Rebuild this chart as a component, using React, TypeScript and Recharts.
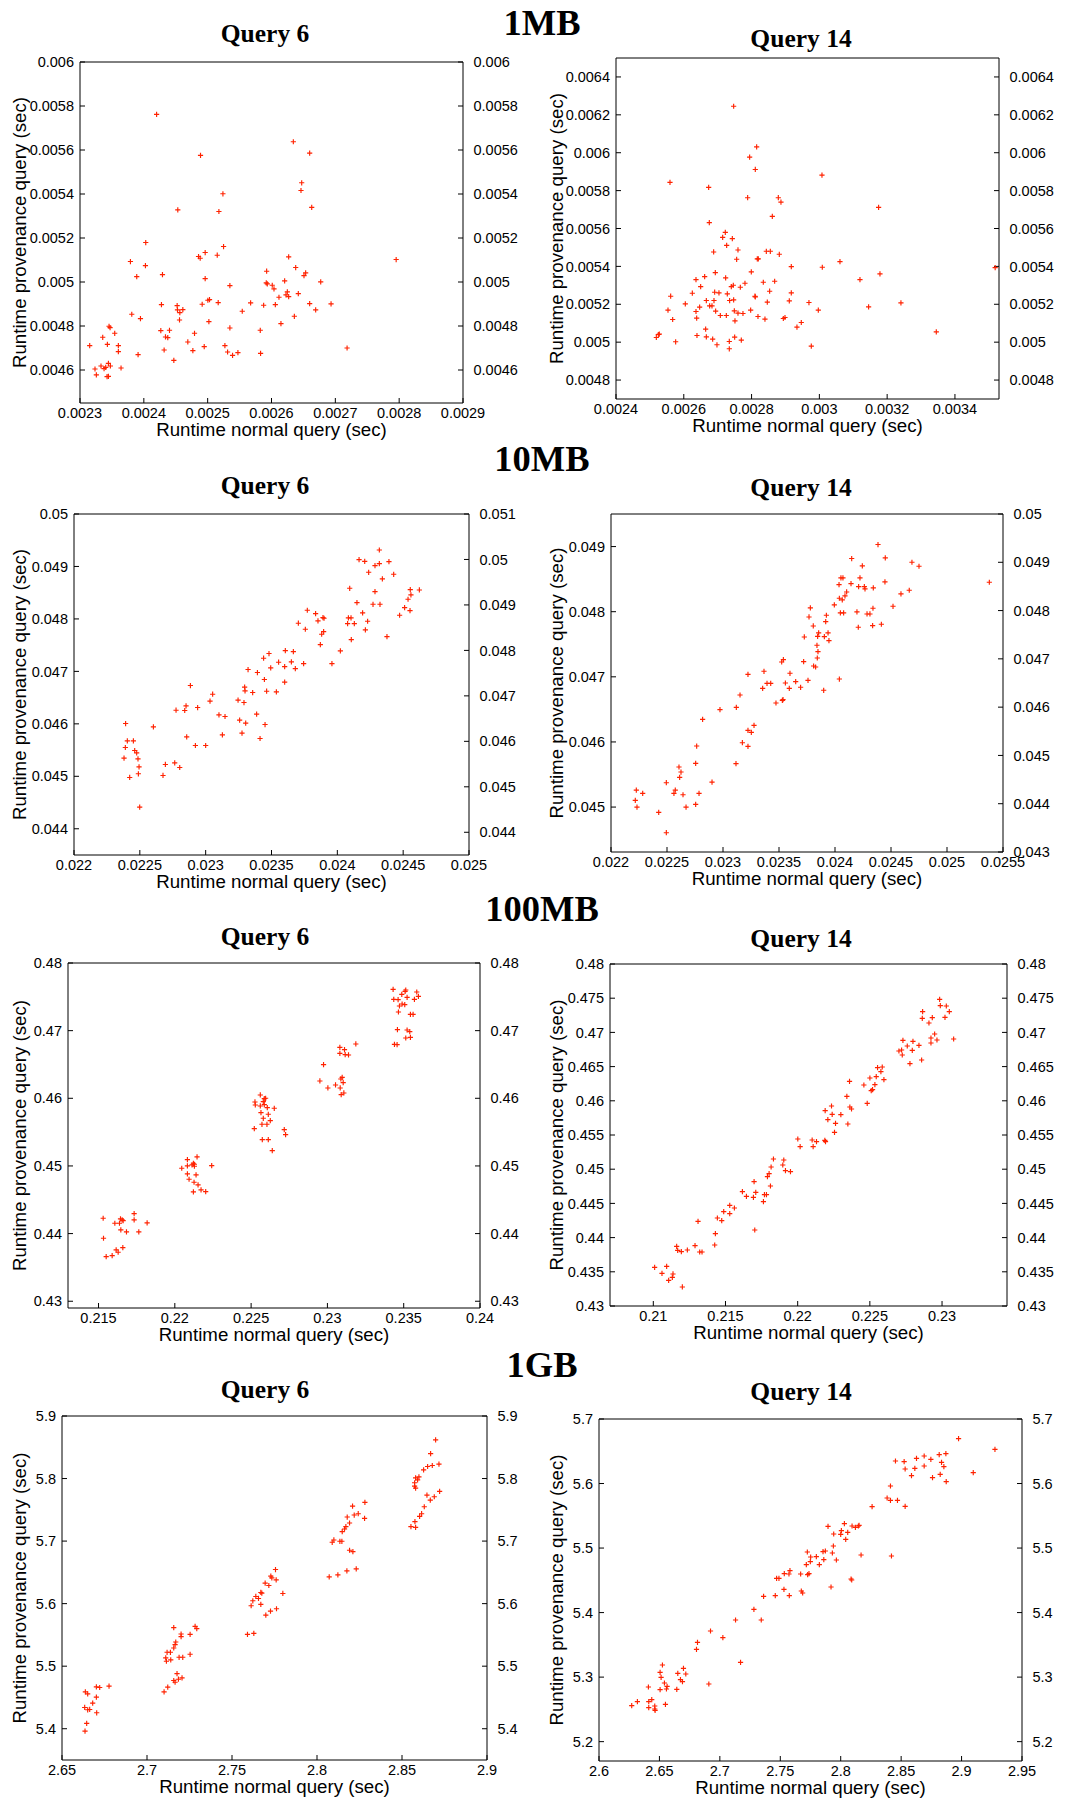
import React from 'react';
import { ScatterChart, Scatter, XAxis, YAxis } from 'recharts';

// Runtime pairs [normal query, provenance query] in seconds
const mb1Q6: [number, number][] = [
  [0.00242, 0.005762], [0.0026342, 0.0056375], [0.0026598, 0.005586], [0.0024888, 0.0055753],
  [0.0026473, 0.005451], [0.0026462, 0.005416], [0.0025239, 0.005401], [0.002663, 0.005339],
  [0.0024532, 0.005328], [0.0025176, 0.0053205], [0.002403, 0.0051794], [0.0025249, 0.0051612],
  [0.0024961, 0.0051339], [0.0024857, 0.0051157], [0.0024883, 0.0051081], [0.002515, 0.0051218],
  [0.002379, 0.005093], [0.0026269, 0.0051142], [0.0024025, 0.0050747], [0.0027953, 0.0051021],
  [0.0023889, 0.0050247], [0.0024292, 0.0050338], [0.0025924, 0.005049], [0.0026379, 0.0050657],
  [0.0026535, 0.0050414], [0.0026509, 0.0050292], [0.0024961, 0.0050156], [0.0026771, 0.0050004],
  [0.0026206, 0.005005], [0.0025918, 0.0049959], [0.0025934, 0.0049913], [0.0025348, 0.0049838],
  [0.0026012, 0.0049853], [0.0026039, 0.0049686], [0.0026248, 0.0049549], [0.0026117, 0.0049307],
  [0.0026227, 0.0049413], [0.0026269, 0.0049337], [0.002642, 0.0049474], [0.0025029, 0.00492],
  [0.0025003, 0.004917], [0.0025165, 0.0049064], [0.0024276, 0.0048973], [0.0024522, 0.0048927],
  [0.0024914, 0.0048988], [0.0025673, 0.0049049], [0.0025877, 0.0048943], [0.002606, 0.0048973],
  [0.0026598, 0.0049018], [0.0026933, 0.0049003], [0.0024527, 0.004873], [0.0024564, 0.0048609],
  [0.0024611, 0.0048745], [0.0025542, 0.004867], [0.0026692, 0.004873], [0.0023811, 0.0048533],
  [0.0026358, 0.0048442], [0.0023947, 0.0048334], [0.0024559, 0.0048275], [0.0025019, 0.0048199],
  [0.0026148, 0.0048108], [0.0023455, 0.0047987], [0.0023471, 0.0047926], [0.0025348, 0.0047911],
  [0.0024266, 0.004779], [0.0024402, 0.0047805], [0.0025824, 0.0047805], [0.0023544, 0.0047669],
  [0.0024794, 0.0047669], [0.0023356, 0.0047487], [0.0024339, 0.0047502], [0.0024375, 0.0047471],
  [0.0024689, 0.0047274], [0.0023152, 0.0047107], [0.0023429, 0.0047168], [0.0023601, 0.0047107],
  [0.002527, 0.0047107], [0.0024946, 0.0047061], [0.0027184, 0.0047001], [0.0024318, 0.004691],
  [0.0024768, 0.004688], [0.0023601, 0.0046834], [0.0025312, 0.0046819], [0.0025474, 0.0046789],
  [0.0025829, 0.0046758], [0.002539, 0.0046667], [0.002391, 0.0046697], [0.002447, 0.004644],
  [0.0023329, 0.0046182], [0.0023403, 0.0046121], [0.0023476, 0.0046182], [0.0023445, 0.0046303],
  [0.0023643, 0.0046091], [0.0023235, 0.0046046], [0.0023377, 0.0046061], [0.0023256, 0.0045777],
  [0.0023424, 0.0045697], [0.0023445, 0.0045712],
];

const mb1Q14: [number, number][] = [
  [0.0027471, 0.0062454], [0.002815, 0.0060312], [0.0027943, 0.0059767], [0.002811, 0.0059117],
  [0.0030077, 0.0058819], [0.0025593, 0.0058433], [0.0026734, 0.0058169], [0.0027884, 0.0057625],
  [0.0028789, 0.0057625], [0.0028867, 0.0057396], [0.0031748, 0.0057115], [0.0028612, 0.0056641],
  [0.0026753, 0.0056307], [0.0027225, 0.0055798], [0.0027147, 0.0055535], [0.0027432, 0.0055465],
  [0.0027265, 0.0055113], [0.0026881, 0.0054762], [0.0027599, 0.0054867], [0.0028435, 0.0054797],
  [0.0028553, 0.0054797], [0.0028818, 0.0054639], [0.002756, 0.0054375], [0.0028169, 0.0054393],
  [0.0028199, 0.0054393], [0.0030608, 0.0054252], [0.0029172, 0.0053989], [0.0030087, 0.0053954],
  [0.0035187, 0.0053936], [0.0027992, 0.0053708], [0.002693, 0.0053673], [0.0031788, 0.0053603],
  [0.0026616, 0.0053462], [0.002636, 0.0053304], [0.0027235, 0.0053392], [0.0031198, 0.0053304],
  [0.0028681, 0.0053216], [0.0028346, 0.0053164], [0.0027805, 0.0053111], [0.0026498, 0.0052935],
  [0.0027402, 0.0052935], [0.0027461, 0.0053005], [0.0027668, 0.00529], [0.0025613, 0.0052426],
  [0.0026252, 0.0052584], [0.0026911, 0.0052637], [0.0027038, 0.0052602], [0.0027284, 0.0052549],
  [0.0028533, 0.005269], [0.0029172, 0.0052602], [0.00281, 0.0052426], [0.002811, 0.0052391],
  [0.0027353, 0.0052198], [0.0027471, 0.0052233], [0.0026665, 0.0052198], [0.0026891, 0.0052198],
  [0.0026045, 0.0052022], [0.0028464, 0.005211], [0.0029113, 0.005218], [0.0029693, 0.0052092],
  [0.0032407, 0.0052075], [0.0026468, 0.0051846], [0.0026763, 0.0051917], [0.0026832, 0.0051917],
  [0.0025534, 0.0051688], [0.002636, 0.0051618], [0.002694, 0.0051636], [0.0027491, 0.0051653],
  [0.0027973, 0.0051688], [0.0027599, 0.005153], [0.0027746, 0.0051512], [0.0029969, 0.0051688],
  [0.0031453, 0.0051864], [0.0027078, 0.0051407], [0.0027255, 0.0051407], [0.0025672, 0.0051197],
  [0.002638, 0.0051267], [0.0028189, 0.0051355], [0.0028395, 0.0051214], [0.0028937, 0.005125],
  [0.0028986, 0.0051302], [0.002751, 0.0051126], [0.0029467, 0.0051039], [0.0029339, 0.0050792],
  [0.0026645, 0.0050687], [0.003345, 0.0050547], [0.002519, 0.0050248], [0.0025249, 0.0050406],
  [0.0025278, 0.0050424], [0.0026389, 0.0050353], [0.0026665, 0.0050283], [0.0026852, 0.005016],
  [0.0027501, 0.0050266], [0.0027697, 0.0050107], [0.002576, 0.005002], [0.0027343, 0.0050037],
  [0.0026979, 0.0049862], [0.0029762, 0.0049792], [0.0027343, 0.0049651],
];

const mb10Q6: [number, number][] = [
  [0.024319, 0.049314], [0.024165, 0.04913], [0.024208, 0.049098], [0.024392, 0.049092],
  [0.024319, 0.049054], [0.024286, 0.049016], [0.024238, 0.048889], [0.024428, 0.048851],
  [0.024342, 0.048762], [0.024094, 0.048584], [0.024554, 0.048559], [0.024623, 0.048552],
  [0.024559, 0.048457], [0.024286, 0.048521], [0.024537, 0.048375], [0.024149, 0.048311],
  [0.024271, 0.048279], [0.024324, 0.048279], [0.024511, 0.048216], [0.024552, 0.048159],
  [0.023772, 0.048165], [0.024192, 0.048114], [0.023835, 0.048102], [0.024473, 0.04807],
  [0.023891, 0.048025], [0.023899, 0.048013], [0.024084, 0.048019], [0.024104, 0.048019],
  [0.023853, 0.047962], [0.02423, 0.047956], [0.024078, 0.047911], [0.024129, 0.047911],
  [0.023704, 0.047918], [0.023757, 0.047803], [0.024213, 0.047791], [0.023896, 0.047759],
  [0.023881, 0.047708], [0.024106, 0.047606], [0.024377, 0.047664], [0.023871, 0.047511],
  [0.023605, 0.047397], [0.023666, 0.047378], [0.024023, 0.047391], [0.023481, 0.04734],
  [0.02344, 0.047251], [0.023554, 0.047175], [0.023651, 0.047181], [0.0236, 0.047092],
  [0.023681, 0.047054], [0.023744, 0.047149], [0.023959, 0.047149], [0.023494, 0.047067],
  [0.023322, 0.047035], [0.023393, 0.046978], [0.023446, 0.046845], [0.0236, 0.046794],
  [0.023296, 0.046699], [0.023299, 0.046629], [0.023463, 0.046622], [0.023537, 0.04661],
  [0.023357, 0.046597], [0.022884, 0.04673], [0.023053, 0.046565], [0.023033, 0.046432],
  [0.023246, 0.046451], [0.023291, 0.046406], [0.022851, 0.046343], [0.022939, 0.046311],
  [0.022775, 0.04626], [0.022841, 0.046254], [0.023101, 0.046171], [0.023147, 0.04614],
  [0.023387, 0.046184], [0.023258, 0.04607], [0.023304, 0.046013], [0.022392, 0.046006],
  [0.023451, 0.045987], [0.022603, 0.045943], [0.023127, 0.045791], [0.023276, 0.045822],
  [0.022856, 0.045752], [0.023413, 0.045721], [0.022405, 0.045676], [0.022451, 0.045676],
  [0.022922, 0.045587], [0.023, 0.045587], [0.02239, 0.045549], [0.022461, 0.045492],
  [0.022476, 0.045448], [0.02238, 0.045346], [0.022486, 0.045333], [0.022694, 0.045226],
  [0.022765, 0.045257], [0.022494, 0.045181], [0.022803, 0.045168], [0.022489, 0.045048],
  [0.022676, 0.045016], [0.022423, 0.044978], [0.022499, 0.044413],
];

const mb10Q14: [number, number][] = [
  [0.024384, 0.049031], [0.024149, 0.048816], [0.024449, 0.048826], [0.024687, 0.048759],
  [0.024244, 0.048703], [0.02475, 0.048698], [0.024053, 0.048519], [0.024071, 0.048519],
  [0.024223, 0.048519], [0.025378, 0.048452], [0.024036, 0.048416], [0.024143, 0.048431],
  [0.024211, 0.048385], [0.024262, 0.048385], [0.024268, 0.04835], [0.024342, 0.048365],
  [0.024446, 0.048457], [0.024104, 0.048303], [0.024089, 0.048242], [0.024039, 0.048206],
  [0.024065, 0.048181], [0.024589, 0.048273], [0.024663, 0.048329], [0.023994, 0.048104],
  [0.024518, 0.048083], [0.02378, 0.048058], [0.024339, 0.048053], [0.024048, 0.047981],
  [0.024077, 0.047981], [0.024196, 0.047996], [0.024286, 0.047965], [0.024312, 0.047965],
  [0.023768, 0.047919], [0.023923, 0.047945], [0.023917, 0.047848], [0.023806, 0.047781],
  [0.024208, 0.047761], [0.024336, 0.047786], [0.024414, 0.047807], [0.023854, 0.047674],
  [0.023938, 0.047674], [0.023726, 0.047612], [0.023845, 0.047622], [0.023905, 0.047617],
  [0.023946, 0.047556], [0.023839, 0.047484], [0.023848, 0.047387], [0.023842, 0.047289],
  [0.023524, 0.047228], [0.023539, 0.047264], [0.02372, 0.047233], [0.023809, 0.047166],
  [0.023827, 0.047151], [0.023366, 0.047085], [0.023223, 0.047038], [0.023598, 0.047054],
  [0.023649, 0.046926], [0.023393, 0.0469], [0.023426, 0.0469], [0.023557, 0.046905],
  [0.023759, 0.046946], [0.024039, 0.046966], [0.023354, 0.046823], [0.023592, 0.046823],
  [0.023693, 0.046839], [0.023899, 0.046793], [0.023152, 0.046721], [0.02353, 0.046639],
  [0.023536, 0.046649], [0.023473, 0.046598], [0.023119, 0.046531], [0.022973, 0.046496],
  [0.022818, 0.046347], [0.023277, 0.046255], [0.023223, 0.046178], [0.023253, 0.046147],
  [0.023173, 0.045988], [0.023223, 0.045932], [0.022765, 0.045937], [0.023116, 0.045666],
  [0.022756, 0.045671], [0.022607, 0.045615], [0.022625, 0.045538], [0.022613, 0.045456],
  [0.022494, 0.045374], [0.022902, 0.045384], [0.022226, 0.045261], [0.022574, 0.045261],
  [0.022562, 0.04521], [0.022283, 0.04521], [0.022643, 0.045189], [0.022786, 0.04521],
  [0.022217, 0.045102], [0.022756, 0.045041], [0.022232, 0.045], [0.02267, 0.045],
  [0.022426, 0.044918], [0.022494, 0.044606],
];

const mb100Q6: [number, number][] = [
  [0.215305, 0.442266], [0.216069, 0.441527], [0.216374, 0.441527], [0.21644, 0.442167],
  [0.216549, 0.44202], [0.216614, 0.441921], [0.217334, 0.442956], [0.217334, 0.44202],
  [0.218185, 0.441576], [0.216462, 0.440543], [0.216832, 0.440247], [0.21764, 0.440247],
  [0.215327, 0.439311], [0.216156, 0.437587], [0.216593, 0.437932], [0.216287, 0.437242],
  [0.215894, 0.43675], [0.215502, 0.436602],
  [0.221457, 0.451331], [0.220825, 0.450937], [0.220454, 0.449656], [0.220825, 0.449999],
  [0.22113, 0.450148], [0.221217, 0.450394], [0.221283, 0.450246], [0.221283, 0.449951],
  [0.222417, 0.450049], [0.220825, 0.448818], [0.221392, 0.44867], [0.220934, 0.448029],
  [0.221261, 0.447586], [0.221523, 0.447192], [0.221719, 0.446453], [0.222024, 0.446207],
  [0.221217, 0.446158],
  [0.225602, 0.460493], [0.225253, 0.459458], [0.225275, 0.459015], [0.225864, 0.459951],
  [0.225951, 0.46], [0.225798, 0.459508], [0.225602, 0.458867], [0.225864, 0.459064],
  [0.22606, 0.458621], [0.226518, 0.458522], [0.225646, 0.457882], [0.226126, 0.457636],
  [0.225798, 0.457045], [0.226256, 0.4567], [0.225711, 0.456158], [0.226038, 0.456158],
  [0.225209, 0.455518], [0.227173, 0.45537], [0.22726, 0.454631], [0.225733, 0.453892],
  [0.226126, 0.453892], [0.226387, 0.452267],
  [0.231863, 0.46803], [0.230816, 0.467537], [0.231121, 0.467192], [0.230816, 0.46665],
  [0.231165, 0.466453], [0.231383, 0.466404], [0.229747, 0.464975], [0.230968, 0.463103],
  [0.230881, 0.462857], [0.229507, 0.462562], [0.231034, 0.462316], [0.230532, 0.461971],
  [0.230031, 0.461527], [0.230838, 0.461527], [0.231078, 0.460788], [0.230903, 0.460542],
  [0.234306, 0.476108], [0.235135, 0.47601], [0.235091, 0.475813], [0.235855, 0.475714],
  [0.234874, 0.47537], [0.235964, 0.475074], [0.235222, 0.474926], [0.234349, 0.474631],
  [0.234633, 0.474581], [0.235702, 0.474631], [0.234895, 0.473941], [0.23472, 0.473645],
  [0.235069, 0.473842], [0.234655, 0.472759], [0.23544, 0.472414], [0.235615, 0.472414],
  [0.234589, 0.470148], [0.235222, 0.470099], [0.235397, 0.469852], [0.235135, 0.468916],
  [0.23544, 0.469015], [0.234393, 0.46798], [0.234567, 0.467931],
];

const mb100Q14: [number, number][] = [
  [0.229834, 0.474835], [0.22988, 0.473909], [0.230296, 0.47386], [0.230504, 0.473032],
  [0.228655, 0.473032], [0.228632, 0.472057], [0.229325, 0.472155], [0.230204, 0.472203],
  [0.229094, 0.471375], [0.229487, 0.469767], [0.229233, 0.469182], [0.229649, 0.46889],
  [0.229233, 0.468451], [0.230804, 0.469036], [0.227291, 0.468841], [0.227985, 0.468695],
  [0.227592, 0.468013], [0.228401, 0.46811], [0.227014, 0.467282], [0.227199, 0.467428],
  [0.227939, 0.467379], [0.227245, 0.466697], [0.228586, 0.465966], [0.227777, 0.46543],
  [0.225534, 0.464845], [0.225858, 0.464943], [0.225765, 0.464261], [0.225003, 0.463334],
  [0.225442, 0.463529], [0.225974, 0.463091], [0.223592, 0.462847], [0.224586, 0.462311],
  [0.225349, 0.46236], [0.225095, 0.461483], [0.225187, 0.461629], [0.223407, 0.460654],
  [0.224817, 0.459631], [0.222344, 0.459241], [0.223615, 0.459095], [0.22373, 0.458802],
  [0.221905, 0.458559], [0.22239, 0.458023], [0.222991, 0.457974], [0.22209, 0.457243],
  [0.222622, 0.456707], [0.223477, 0.45661], [0.222552, 0.455391], [0.220009, 0.454417],
  [0.220171, 0.453296], [0.221003, 0.454271], [0.221304, 0.454027], [0.221882, 0.454222],
  [0.221928, 0.454027], [0.221072, 0.453296], [0.218322, 0.451493], [0.219038, 0.451347],
  [0.21816, 0.450323], [0.218969, 0.450616], [0.219154, 0.449787], [0.219501, 0.449641],
  [0.218021, 0.449349], [0.217906, 0.44891], [0.216981, 0.448179], [0.218114, 0.447546],
  [0.216172, 0.446717], [0.217097, 0.44662], [0.21645, 0.446035], [0.216935, 0.445889],
  [0.217698, 0.446279], [0.217837, 0.446279], [0.217628, 0.445256], [0.215294, 0.44472],
  [0.215617, 0.44433], [0.214877, 0.443794], [0.214438, 0.442868], [0.214739, 0.442478],
  [0.215294, 0.443501], [0.213098, 0.442381], [0.217027, 0.441114], [0.2143, 0.440578],
  [0.214253, 0.438921], [0.21289, 0.438824], [0.211618, 0.438726], [0.211688, 0.438141],
  [0.211942, 0.437946], [0.212358, 0.43819], [0.213213, 0.437898], [0.213375, 0.437898],
  [0.210092, 0.435657], [0.210925, 0.435803], [0.210601, 0.43478], [0.211364, 0.434683],
  [0.211318, 0.434195], [0.211063, 0.433757], [0.212011, 0.432782],
];

const gb1Q6: [number, number][] = [
  [2.663736, 5.458978], [2.665115, 5.45579], [2.670212, 5.466948], [2.672174, 5.465886],
  [2.677669, 5.468011], [2.670212, 5.450476], [2.668053, 5.440912], [2.663344, 5.434004],
  [2.665115, 5.430285], [2.666287, 5.430816], [2.670408, 5.425503], [2.664521, 5.4085],
  [2.66354, 5.396279],
  [2.715737, 5.56153], [2.728296, 5.563655], [2.729277, 5.559936], [2.720055, 5.551434],
  [2.725353, 5.550903], [2.720055, 5.547184], [2.716915, 5.538682], [2.716523, 5.534431],
  [2.715737, 5.529118], [2.711813, 5.52221], [2.713775, 5.52221], [2.711028, 5.513177],
  [2.71142, 5.507864], [2.713971, 5.509989], [2.718877, 5.51424], [2.721036, 5.51424],
  [2.725353, 5.519022], [2.717661, 5.488204], [2.720604, 5.481296], [2.718484, 5.479171],
  [2.715737, 5.477045], [2.716522, 5.474389], [2.712205, 5.466418], [2.710046, 5.458978],
  [2.775587, 5.654516], [2.77284, 5.643889], [2.773429, 5.641233], [2.77598, 5.638044],
  [2.769506, 5.632731], [2.771664, 5.629011], [2.766955, 5.617853], [2.767543, 5.616791],
  [2.779905, 5.616259], [2.764011, 5.611477], [2.762245, 5.604569], [2.765581, 5.608289],
  [2.761264, 5.596609], [2.766955, 5.598735], [2.776177, 5.591827], [2.772644, 5.588108],
  [2.769897, 5.581732], [2.759104, 5.550903], [2.762833, 5.552497],
  [2.828177, 5.761849], [2.820916, 5.756004], [2.821897, 5.741658], [2.824252, 5.743783],
  [2.82798, 5.736344], [2.817776, 5.73847], [2.81915, 5.728905], [2.816991, 5.723061],
  [2.816206, 5.719341], [2.814833, 5.715091], [2.809927, 5.701807], [2.808946, 5.698087],
  [2.813459, 5.699681], [2.814636, 5.699681], [2.81915, 5.685335], [2.821112, 5.683209],
  [2.823075, 5.655578], [2.81758, 5.65239], [2.812282, 5.646014], [2.80718, 5.642826],
  [2.869778, 5.861743], [2.866835, 5.839958], [2.87174, 5.822955], [2.867816, 5.820829],
  [2.865068, 5.819235], [2.862714, 5.813922], [2.859966, 5.802764], [2.858004, 5.80117],
  [2.859182, 5.797982], [2.857415, 5.793199], [2.857415, 5.787886], [2.858004, 5.784698],
  [2.872133, 5.779384], [2.864676, 5.77354], [2.868993, 5.770883], [2.866638, 5.765569],
  [2.863106, 5.754942], [2.861536, 5.743783], [2.860359, 5.739533], [2.857611, 5.731031],
  [2.855256, 5.723061], [2.858004, 5.721998],
];

const gb1Q14: [number, number][] = [
  [2.89751, 5.669525], [2.927622, 5.652996], [2.887017, 5.646281], [2.881492, 5.644731],
  [2.869061, 5.642665], [2.862707, 5.639049], [2.874586, 5.6375], [2.845302, 5.634917],
  [2.852485, 5.633884], [2.883425, 5.632851], [2.869061, 5.627169], [2.885354, 5.626136],
  [2.861326, 5.623554], [2.853314, 5.622521], [2.858563, 5.61219], [2.88232, 5.614256],
  [2.875967, 5.609091], [2.909668, 5.616839], [2.887293, 5.602893], [2.841158, 5.596178],
  [2.838396, 5.577583], [2.841158, 5.573967], [2.846959, 5.573967], [2.825964, 5.564153],
  [2.853314, 5.564669], [2.803036, 5.53781], [2.7895, 5.533678], [2.809389, 5.534194],
  [2.814638, 5.534194], [2.81519, 5.535227], [2.812152, 5.532128], [2.800549, 5.526963],
  [2.805798, 5.52438], [2.794197, 5.521798], [2.799997, 5.521281], [2.804142, 5.513533],
  [2.793921, 5.503203], [2.772374, 5.493905], [2.785357, 5.494422], [2.78729, 5.495455],
  [2.793091, 5.492356], [2.816848, 5.489257], [2.841986, 5.487707], [2.779832, 5.486674],
  [2.775136, 5.486158], [2.786003, 5.482025], [2.796407, 5.481509], [2.77486, 5.478926],
  [2.771545, 5.474277], [2.782318, 5.474277], [2.758009, 5.46498], [2.766848, 5.459815],
  [2.753313, 5.460331], [2.75718, 5.459815], [2.773754, 5.460331], [2.77265, 5.458781],
  [2.74696, 5.453099], [2.748894, 5.453099], [2.808561, 5.452066], [2.809113, 5.450517],
  [2.791987, 5.439669], [2.753037, 5.436054], [2.767401, 5.433471], [2.768506, 5.430372],
  [2.745855, 5.426239], [2.757456, 5.426239], [2.736186, 5.425206], [2.728176, 5.405062],
  [2.712982, 5.388533], [2.734253, 5.388533], [2.692264, 5.371488], [2.702485, 5.361158],
  [2.681491, 5.353926], [2.680662, 5.343079], [2.717126, 5.322934], [2.652486, 5.318802],
  [2.650552, 5.307439], [2.651381, 5.29969], [2.669889, 5.313637], [2.665193, 5.305888],
  [2.671823, 5.304855], [2.667403, 5.296074], [2.66906, 5.292975], [2.654143, 5.290909],
  [2.656353, 5.285744], [2.655801, 5.281612], [2.640884, 5.284711], [2.650552, 5.280579],
  [2.664364, 5.281096], [2.690883, 5.28936], [2.643646, 5.265083], [2.64116, 5.261984],
  [2.631768, 5.261984], [2.627072, 5.255786], [2.64116, 5.252687], [2.654972, 5.257852],
  [2.646133, 5.255269], [2.646133, 5.25062], [2.646409, 5.248554],
];

// Tick values
const ticks1mbQ6X = [0.0023, 0.0024, 0.0025, 0.0026, 0.0027, 0.0028, 0.0029];
const ticks1mbQ6Y = [0.0046, 0.0048, 0.005, 0.0052, 0.0054, 0.0056, 0.0058, 0.006];
const ticks1mbQ14X = [0.0024, 0.0026, 0.0028, 0.003, 0.0032, 0.0034];
const ticks1mbQ14Y = [0.0048, 0.005, 0.0052, 0.0054, 0.0056, 0.0058, 0.006, 0.0062, 0.0064];
const ticks10mbQ6X = [0.022, 0.0225, 0.023, 0.0235, 0.024, 0.0245, 0.025];
const ticks10mbQ6Y = [0.044, 0.045, 0.046, 0.047, 0.048, 0.049, 0.05];
const ticks10mbQ6Y2 = [0.044, 0.045, 0.046, 0.047, 0.048, 0.049, 0.05, 0.051];
const ticks10mbQ14X = [0.022, 0.0225, 0.023, 0.0235, 0.024, 0.0245, 0.025, 0.0255];
const ticks10mbQ14Y = [0.045, 0.046, 0.047, 0.048, 0.049];
const ticks10mbQ14Y2 = [0.043, 0.044, 0.045, 0.046, 0.047, 0.048, 0.049, 0.05];
const ticks100mbQ6X = [0.215, 0.22, 0.225, 0.23, 0.235, 0.24];
const ticks100mbQ6Y = [0.43, 0.44, 0.45, 0.46, 0.47, 0.48];
const ticks100mbQ14X = [0.21, 0.215, 0.22, 0.225, 0.23];
const ticks100mbQ14Y = [0.43, 0.435, 0.44, 0.445, 0.45, 0.455, 0.46, 0.465, 0.47, 0.475, 0.48];
const ticks1gbQ6X = [2.65, 2.7, 2.75, 2.8, 2.85, 2.9];
const ticks1gbQ6Y = [5.4, 5.5, 5.6, 5.7, 5.8, 5.9];
const ticks1gbQ14X = [2.6, 2.65, 2.7, 2.75, 2.8, 2.85, 2.9, 2.95];
const ticks1gbQ14Y = [5.2, 5.3, 5.4, 5.5, 5.6, 5.7];

const sections = ['1MB', '10MB', '100MB', '1GB'];
const queryTitles = ['Query 6', 'Query 14'];

const RED = '#ff2200';
const SANS = "'Liberation Sans', Arial, Helvetica, sans-serif";
const SERIF = "'Liberation Serif', 'Times New Roman', serif";

// layout: plot box [left, top, right, bottom] in page pixels
interface PanelDef {
  box: [number, number, number, number];
  col: number;
  titleY: number;
  data: [number, number][];
  xDomain: [number, number];
  xTicks: number[];
  yDomain: [number, number];
  yTicks: number[];
  y2Domain?: [number, number];
  y2Ticks?: number[];
}

const panels: PanelDef[] = [
  { box: [80, 62, 463, 403], col: 0, titleY: 42, data: mb1Q6, xDomain: [0.0023, 0.0029], xTicks: ticks1mbQ6X, yDomain: [0.00445, 0.006], yTicks: ticks1mbQ6Y },
  { box: [616, 58, 999, 399], col: 1, titleY: 47, data: mb1Q14, xDomain: [0.0024, 0.00353], xTicks: ticks1mbQ14X, yDomain: [0.0047, 0.0065], yTicks: ticks1mbQ14Y },
  { box: [74, 514, 469, 855], col: 0, titleY: 494, data: mb10Q6, xDomain: [0.022, 0.025], xTicks: ticks10mbQ6X, yDomain: [0.0435, 0.05], yTicks: ticks10mbQ6Y, y2Domain: [0.0435, 0.051], y2Ticks: ticks10mbQ6Y2 },
  { box: [611, 514, 1003, 852], col: 1, titleY: 496, data: mb10Q14, xDomain: [0.022, 0.0255], xTicks: ticks10mbQ14X, yDomain: [0.04431, 0.0495], yTicks: ticks10mbQ14Y, y2Domain: [0.043, 0.05], y2Ticks: ticks10mbQ14Y2 },
  { box: [68, 963, 480, 1308], col: 0, titleY: 945, data: mb100Q6, xDomain: [0.213, 0.24], xTicks: ticks100mbQ6X, yDomain: [0.429, 0.48], yTicks: ticks100mbQ6Y },
  { box: [610, 964, 1007, 1306], col: 1, titleY: 947, data: mb100Q14, xDomain: [0.207, 0.2345], xTicks: ticks100mbQ14X, yDomain: [0.43, 0.48], yTicks: ticks100mbQ14Y },
  { box: [62, 1416, 487, 1760], col: 0, titleY: 1398, data: gb1Q6, xDomain: [2.65, 2.9], xTicks: ticks1gbQ6X, yDomain: [5.35, 5.9], yTicks: ticks1gbQ6Y },
  { box: [599, 1419, 1022, 1761], col: 1, titleY: 1400, data: gb1Q14, xDomain: [2.6, 2.95], xTicks: ticks1gbQ14X, yDomain: [5.17, 5.7], yTicks: ticks1gbQ14Y },
];

const sectionBaselines = [35, 471, 921, 1377];
const titleX = [265, 801];
const yLabelX = [19.5, 556.5];

const L = 60;
const R = 70;
const T = 10;
const B = 40;
const TICK = -5; // gnuplot style: ticks point inward

const tickStyle = { fontSize: 14.5, fill: '#000', fontFamily: SANS };

// red "+" marker like gnuplot point type 1
const Plus = (props: any) => {
  const { cx, cy } = props;
  if (cx == null || cy == null) return null;
  const a = 2.6;
  return (
    <path
      d={`M${cx - a},${cy}H${cx + a}M${cx},${cy - a}V${cy + a}`}
      stroke={RED}
      strokeWidth={1.15}
      fill="none"
    />
  );
};

const Panel: React.FC<{ p: PanelDef }> = ({ p }) => {
  const [x0, y0, x1, y1] = p.box;
  const mirror = !!p.y2Domain;
  const w = x1 - x0 + L + R + (mirror ? 1 : 0);
  const h = y1 - y0 + T + B;
  const pts = p.data.map(([x, y]) => ({ x, y }));

  return (
    <div style={{ position: 'absolute', left: x0 - L, top: y0 - T }}>
      <ScatterChart width={w} height={h} margin={{ top: T - 1, right: 0, bottom: 0, left: 0 }}>
        <XAxis
          xAxisId="b"
          type="number"
          dataKey="x"
          domain={p.xDomain}
          ticks={p.xTicks}
          allowDataOverflow
          interval={0}
          height={B}
          tickSize={TICK}
          tickMargin={10}
          tick={tickStyle}
          axisLine={{ stroke: '#000' }}
          tickLine={{ stroke: '#000' }}
        />
        <XAxis
          xAxisId="t"
          orientation="top"
          type="number"
          dataKey="x"
          domain={p.xDomain}
          ticks={p.xTicks}
          allowDataOverflow
          interval={0}
          height={1}
          tickSize={TICK}
          tick={false}
          axisLine={{ stroke: '#000' }}
          tickLine={{ stroke: '#000' }}
        />
        <YAxis
          yAxisId="l"
          type="number"
          dataKey="y"
          domain={p.yDomain}
          ticks={p.yTicks}
          allowDataOverflow
          interval={0}
          width={L}
          tickSize={TICK}
          tickMargin={11}
          tick={tickStyle}
          axisLine={{ stroke: '#000' }}
          tickLine={{ stroke: '#000' }}
        />
        {mirror && (
          <YAxis
            yAxisId="rm"
            orientation="right"
            type="number"
            domain={p.yDomain}
            ticks={p.yTicks}
            allowDataOverflow
            interval={0}
            width={1}
            tickSize={TICK}
            tick={false}
            axisLine={false}
            tickLine={{ stroke: '#000' }}
          />
        )}
        <YAxis
          yAxisId="r"
          orientation="right"
          type="number"
          domain={p.y2Domain || p.yDomain}
          ticks={p.y2Ticks || p.yTicks}
          allowDataOverflow
          interval={0}
          width={R}
          tickSize={TICK}
          tickMargin={15.5}
          tick={tickStyle}
          axisLine={{ stroke: '#000' }}
          tickLine={{ stroke: '#000' }}
        />
        <Scatter xAxisId="b" yAxisId="l" data={pts} shape={Plus} isAnimationActive={false} />
      </ScatterChart>
    </div>
  );
};

const App: React.FC = () => {
  return (
    <div
      style={{
        position: 'absolute',
        left: 0,
        top: 0,
        width: 1077,
        height: 1801,
        overflow: 'hidden',
        background: '#fff',
      }}
    >
      {panels.map((p, i) => (
        <Panel key={i} p={p} />
      ))}

      {/* Titles and axis labels */}
      <svg
        width={1077}
        height={1801}
        style={{ position: 'absolute', left: 0, top: 0, pointerEvents: 'none' }}
      >
        {sections.map((s, i) => (
          <text
            key={s}
            x={542}
            y={sectionBaselines[i]}
            textAnchor="middle"
            fontFamily={SERIF}
            fontWeight="bold"
            fontSize={36.5}
            fill="#000"
          >
            {s}
          </text>
        ))}
        {panels.map((p, i) => {
          const [x0, y0, x1, y1] = p.box;
          const cx = (x0 + x1) / 2;
          const cy = (y0 + y1) / 2;
          return (
            <g key={i}>
              <text
                x={titleX[p.col]}
                y={p.titleY}
                textAnchor="middle"
                fontFamily={SERIF}
                fontWeight="bold"
                fontSize={25.5}
                fill="#000"
              >
                {queryTitles[p.col]}
              </text>
              <text x={cx} y={y1 + 33} textAnchor="middle" fontFamily={SANS} fontSize={18.7} fill="#000">
                Runtime normal query (sec)
              </text>
              <text
                transform={`translate(${yLabelX[p.col]},${cy}) rotate(-90)`}
                textAnchor="middle"
                dominantBaseline="central"
                fontFamily={SANS}
                fontSize={18.7}
                fill="#000"
              >
                Runtime provenance query (sec)
              </text>
            </g>
          );
        })}
      </svg>
    </div>
  );
};

export default App;
